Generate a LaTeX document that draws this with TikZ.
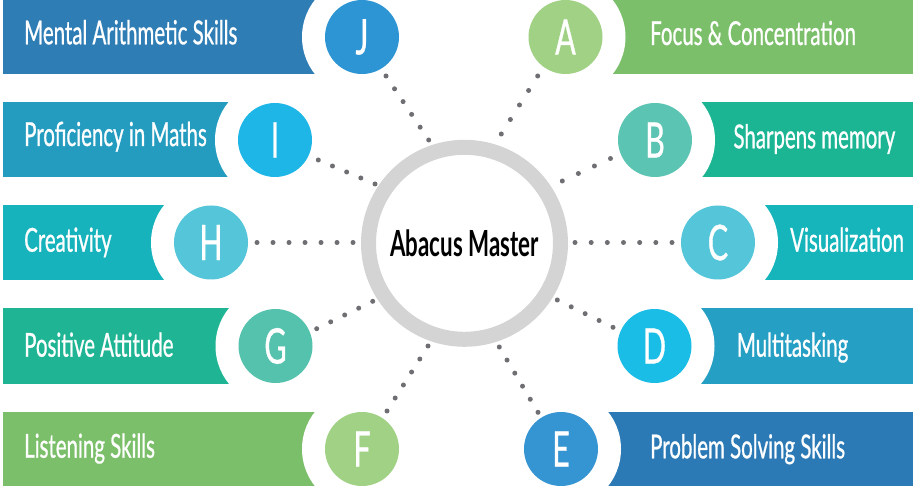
\documentclass[tikz,border=0pt]{standalone}
\usepackage{fontspec}
\setmainfont{Lato}[FakeStretch=0.62]
\newfontfamily\barfont{Lato}[FakeStretch=0.62,FakeBold=0.7]
\usetikzlibrary{calc}

% bar / badge colour pairs
\definecolor{jbar}{HTML}{2E7DB5}\definecolor{jdot}{HTML}{2D95D3}
\definecolor{ibar}{HTML}{249CC0}\definecolor{idot}{HTML}{1DB6E6}
\definecolor{hbar}{HTML}{17B3BC}\definecolor{hdot}{HTML}{55C6DA}
\definecolor{gbar}{HTML}{1FB594}\definecolor{gdot}{HTML}{55C2AD}
\definecolor{fbar}{HTML}{7BBF6A}\definecolor{fdot}{HTML}{A0D184}
\definecolor{abar}{HTML}{7BBF6A}\definecolor{adot}{HTML}{A0D184}
\definecolor{bbar}{HTML}{1BB594}\definecolor{bdot}{HTML}{5BC4B2}
\definecolor{cbar}{HTML}{16B5BC}\definecolor{cdot}{HTML}{55C6DA}
\definecolor{dbar}{HTML}{259FC3}\definecolor{ddot}{HTML}{1ABDE6}
\definecolor{ebar}{HTML}{2B7AB5}\definecolor{edot}{HTML}{3595D3}
\definecolor{ringgray}{HTML}{D4D4D4}
\definecolor{spokegray}{HTML}{6E6E73}

% a row of evenly spaced dots between two named points
\newcommand\dotrow[3]{%
  \foreach \k in {0,...,#3}{\fill[spokegray] ($(#1)!{\k/#3}!(#2)$) circle[radius=2.5pt];}}

\begin{document}
\begin{tikzpicture}[x=1pt,y=-1pt,
  badge/.style={circle,minimum size=74pt,inner sep=0pt,text=white,
    font=\barfont\fontsize{49}{49}\selectfont},
  bartext/.style={anchor=base west,inner sep=0pt,text=white,
    font=\barfont\fontsize{33}{33}\selectfont},
  cutout/.style={fill=white}]
\useasboundingbox (0,0) rectangle (913,486);

% badge centres
\coordinate (pJ) at (362,37);
\coordinate (pI) at (275,140);
\coordinate (pH) at (211,242.5);
\coordinate (pG) at (275.5,346);
\coordinate (pF) at (362,449);
\coordinate (pA) at (565.5,37);
\coordinate (pB) at (655,140);
\coordinate (pC) at (718,242.5);
\coordinate (pD) at (654.5,346);
\coordinate (pE) at (561,449);

% left bars
\fill[jbar] (3,-1) rectangle (362,74.5);
\fill[ibar] (3,102.5) rectangle (275,177.5);
\fill[hbar] (3,205) rectangle (211,280);
\fill[gbar] (3,308.5) rectangle (275.5,383.5);
\fill[fbar] (3,411.5) rectangle (362,487);
% right bars
\fill[abar] (565.5,-1) rectangle (914,74.5);
\fill[bbar] (655,102.5) rectangle (914,177.5);
\fill[cbar] (718,205) rectangle (914,280);
\fill[dbar] (654.5,308.5) rectangle (914,383.5);
\fill[ebar] (561,411.5) rectangle (914,487);

% round white notches around the badges
\foreach \p in {pJ,pI,pH,pG,pF,pA,pB,pC,pD,pE}
  \fill[cutout] (\p) circle[radius=60pt];

% badges
\node[badge,fill=jdot] (J) at (pJ) {J};
\node[badge,fill=idot] (I) at (pI) {I};
\node[badge,fill=hdot] (H) at (pH) {H};
\node[badge,fill=gdot] (G) at (pG) {G};
\node[badge,fill=fdot] (F) at (pF) {F};
\node[badge,fill=adot] (A) at (pA) {A};
\node[badge,fill=bdot] (B) at (pB) {B};
\node[badge,fill=cdot] (C) at (pC) {C};
\node[badge,fill=ddot] (D) at (pD) {D};
\node[badge,fill=edot] (E) at (pE) {E};

% bar captions
\node[bartext] (tJ) at (24,44.3) {Mental Arithmetic Skills};
\node[bartext] (tI) at (24,146) {Proficiency in Maths};
\node[bartext] (tH) at (24,251.7) {Creativity};
\node[bartext] (tG) at (24,356.7) {Positive Attitude};
\node[bartext] (tF) at (24,457.7) {Listening Skills};
\node[bartext] (tA) at (650,45) {Focus \& Concentration};
\node[bartext] (tB) at (733.3,148.3) {Sharpens memory};
\node[bartext] (tC) at (790,251.7) {Visualization};
\node[bartext] (tD) at (736.7,356.7) {Multitasking};
\node[bartext] (tE) at (650,458.3) {Problem Solving Skills};

% hub
\node[circle,draw=ringgray,line width=15pt,minimum size=192pt,inner sep=0pt,
  font=\bfseries\fontsize{36}{36}\selectfont] (hub) at (464.5,243.3) {Abacus Master};

% dotted spokes
\coordinate (sJ1) at (386,76);     \coordinate (sJ2) at (428.7,140);
\coordinate (sA1) at (537.7,76);   \coordinate (sA2) at (501.3,134);
\coordinate (sI1) at (318.3,160);  \coordinate (sI2) at (375,184);
\coordinate (sB1) at (610.5,158.5);\coordinate (sB2) at (562.3,181);
\coordinate (sH1) at (257,242.5);  \coordinate (sH2) at (353,242.5);
\coordinate (sC1) at (672,242.5);  \coordinate (sC2) at (575,242.5);
\coordinate (sG1) at (316.7,328.7);\coordinate (sG2) at (372.7,301.3);
\coordinate (sD1) at (613,327.3);  \coordinate (sD2) at (557.3,300);
\coordinate (sF1) at (387,411);    \coordinate (sF2) at (428,346);
\coordinate (sE1) at (538,412.3);  \coordinate (sE2) at (499.3,347);
\dotrow{sJ1}{sJ2}{5}
\dotrow{sA1}{sA2}{4}
\dotrow{sI1}{sI2}{4}
\dotrow{sB1}{sB2}{3}
\dotrow{sH1}{sH2}{6}
\dotrow{sC1}{sC2}{6}
\dotrow{sG1}{sG2}{4}
\dotrow{sD1}{sD2}{4}
\dotrow{sF1}{sF2}{5}
\dotrow{sE1}{sE2}{5}
\end{tikzpicture}
\end{document}
